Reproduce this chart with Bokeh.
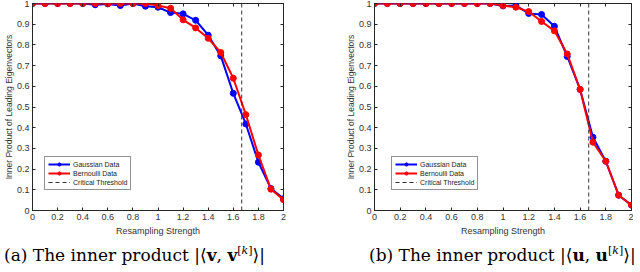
from bokeh.plotting import figure
from bokeh.models import Range1d, FixedTicker, LinearAxis, Div
from bokeh.layouts import row, column
from bokeh.embed import file_html
from bokeh.resources import INLINE

# ---------------- data ----------------
strength = [0.0, 0.1, 0.2, 0.3, 0.4, 0.5, 0.6, 0.7, 0.8, 0.9, 1.0,
            1.1, 1.2, 1.3, 1.4, 1.5, 1.6, 1.7, 1.8, 1.9, 2.0]

# panel (a): |<v, v^[k]>|
a_gauss = [1.0, 1.0, 1.0, 1.0, 1.0, 0.994, 0.998, 0.990, 1.0, 0.987, 0.982,
           0.956, 0.950, 0.919, 0.847, 0.747, 0.566, 0.418, 0.233, 0.106, 0.057]
a_bern = [1.0, 1.0, 1.0, 1.0, 1.0, 1.0, 1.0, 1.0, 1.0, 1.0, 0.990,
          0.977, 0.921, 0.882, 0.832, 0.763, 0.639, 0.463, 0.268, 0.103, 0.052]

# panel (b): |<u, u^[k]>|
b_gauss = [1.0, 1.0, 1.0, 1.0, 1.0, 1.0, 1.0, 1.0, 1.0, 1.0, 0.988,
           0.990, 0.952, 0.947, 0.890, 0.744, 0.585, 0.354, 0.238, 0.074, 0.026]
b_bern = [1.0, 1.0, 1.0, 1.0, 1.0, 1.0, 1.0, 1.0, 1.0, 1.0, 0.990,
          0.982, 0.961, 0.913, 0.868, 0.756, 0.585, 0.330, 0.238, 0.074, 0.026]

threshold_x = [1.667, 1.667]
threshold_y = [0.0, 1.0]

x_ticks = [0.0, 0.2, 0.4, 0.6, 0.8, 1.0, 1.2, 1.4, 1.6, 1.8, 2.0]
x_tick_labels = ["0", "0.2", "0.4", "0.6", "0.8", "1", "1.2", "1.4", "1.6", "1.8", "2"]
y_ticks = [0.0, 0.1, 0.2, 0.3, 0.4, 0.5, 0.6, 0.7, 0.8, 0.9, 1.0]
y_tick_labels = ["0", "0.1", "0.2", "0.3", "0.4", "0.5", "0.6", "0.7", "0.8", "0.9", "1"]

series_labels = ["Gaussian Data", "Bernoulli Data", "Critical Threshold"]
x_label = "Resampling Strength"
y_label = "Inner Product of Leading Eigenvectors"
captions = [
    '(a) The inner product |&#10216;<b>v</b>, <b>v</b><sup style="font-size:11px">[<i>k</i>]</sup>&#10217;|',
    '(b) The inner product |&#10216;<b>u</b>, <b>u</b><sup style="font-size:11px">[<i>k</i>]</sup>&#10217;|',
]

BLUE = "#0000FF"
RED = "#FF0000"
AX = "#262626"
SANS = "Liberation Sans"


def make_panel(gauss, bern, width, border_left, border_right, legend_loc):
    p = figure(width=width, height=238, output_backend="svg", toolbar_location=None,
               x_range=Range1d(0, 2), y_range=Range1d(0, 1),
               min_border_left=border_left, min_border_right=border_right,
               min_border_top=3, min_border_bottom=0)
    p.xgrid.visible = False
    p.ygrid.visible = False
    p.outline_line_color = AX
    p.outline_line_width = 1
    p.background_fill_color = "white"
    p.border_fill_color = "white"

    for ax, ticks, labels in ((p.xaxis[0], x_ticks, x_tick_labels),
                              (p.yaxis[0], y_ticks, y_tick_labels)):
        ax.ticker = FixedTicker(ticks=ticks)
        ax.major_label_overrides = {t: l for t, l in zip(ticks, labels)}
        ax.major_tick_in = 3
        ax.major_tick_out = 0
        ax.minor_tick_line_color = None
        ax.axis_line_color = AX
        ax.major_tick_line_color = AX
        ax.major_label_text_font = SANS
        ax.major_label_text_font_size = "9px"
        ax.major_label_text_color = "#333333"
        ax.axis_label_text_font = SANS
        ax.axis_label_text_font_size = "9px"
        ax.axis_label_text_font_style = "normal"
        ax.axis_label_text_color = "#333333"
        ax.major_label_standoff = 3
        ax.axis_label_standoff = 3
    p.xaxis[0].axis_label = x_label
    p.yaxis[0].axis_label = y_label
    p.yaxis[0].axis_label_text_font_size = "8.5px"
    p.yaxis[0].axis_label_standoff = 0

    # box ticks on top and right (no labels)
    for loc, ticks in (("above", x_ticks), ("right", y_ticks)):
        ax = LinearAxis(ticker=FixedTicker(ticks=ticks))
        ax.major_label_overrides = {t: "" for t in ticks}
        ax.major_tick_in = 3
        ax.major_tick_out = 0
        ax.minor_tick_line_color = None
        ax.axis_line_color = None
        ax.major_tick_line_color = AX
        ax.major_label_standoff = 0
        p.add_layout(ax, loc)

    p.line(strength, gauss, color=BLUE, line_width=2, legend_label=series_labels[0])
    p.scatter(strength, gauss, color=BLUE, size=6, legend_label=series_labels[0])
    p.line(strength, bern, color=RED, line_width=2, legend_label=series_labels[1])
    p.scatter(strength, bern, color=RED, size=6, legend_label=series_labels[1])
    p.line(threshold_x, threshold_y, color="#333333", line_width=1, line_dash="4 3",
           legend_label=series_labels[2])

    lg = p.legend[0]
    lg.location = legend_loc
    lg.label_text_font = SANS
    lg.label_text_font_size = "7px"
    lg.label_text_color = "#222222"
    lg.glyph_width = 22
    lg.glyph_height = 8
    lg.label_height = 8
    lg.spacing = 1
    lg.padding = 3
    lg.margin = 0
    lg.label_standoff = 3
    lg.border_line_color = AX
    lg.border_line_width = 1
    lg.background_fill_alpha = 1
    return p


pa = make_panel(a_gauss, a_bern, 316, 24, 33, (12, 20))
pb = make_panel(b_gauss, b_bern, 308, 49, 2, (17, 20))

cap_style = {"font-family": "'DejaVu Serif', 'Liberation Serif', serif",
             "font-size": "17px", "color": "#000", "white-space": "nowrap"}
da = Div(text=captions[0], width=316, height=26,
         styles=dict(cap_style, **{"margin-left": "4px"}))
db = Div(text=captions[1], width=308, height=26,
         styles=dict(cap_style, **{"margin-left": "44px"}))

layout = row(column(pa, da, spacing=0), column(pb, db, spacing=0), spacing=0)

open("out.html", "w").write(file_html(layout, INLINE))
